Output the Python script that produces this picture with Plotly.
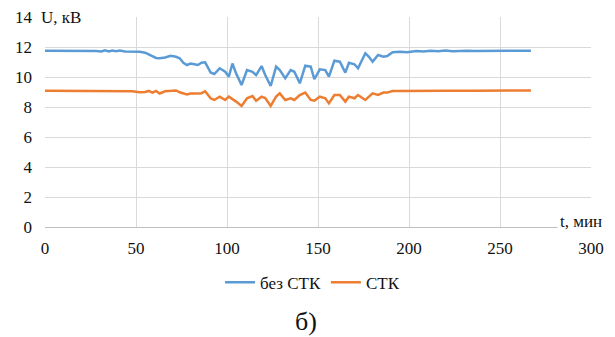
import plotly.graph_objects as go

t_min = [0, 4, 8, 12, 16, 20, 24, 28, 31, 33, 35, 37, 39, 41, 44, 48, 52, 55, 57, 59,
         61, 63, 66, 69, 72, 74, 76, 78, 80, 82, 84, 86, 88, 91, 93, 96, 99, 101, 103, 105,
         108, 111, 114, 116, 119, 121, 124, 127, 129, 132, 135, 137, 140, 143, 146, 148, 151, 154, 156, 159,
         162, 165, 167, 170, 172, 176, 178, 180, 183, 186, 188, 191, 195, 199, 204, 208, 212, 216, 220, 224,
         228, 232, 236, 240, 244, 248, 252, 256, 260, 264, 267]

u_bez_stk = [11.75, 11.75, 11.75, 11.76, 11.75, 11.75, 11.75, 11.74, 11.70, 11.78, 11.70, 11.77, 11.72, 11.77, 11.70, 11.70, 11.68, 11.62, 11.50, 11.35,
             11.27, 11.25, 11.30, 11.42, 11.35, 11.25, 10.95, 10.80, 10.90, 10.85, 10.80, 10.95, 10.98, 10.30, 10.20, 10.58, 10.35, 10.02, 10.90, 10.24,
             9.47, 10.46, 10.35, 10.13, 10.73, 10.13, 9.40, 10.69, 10.46, 9.91, 10.46, 10.35, 9.58, 10.76, 10.69, 9.85, 10.51, 10.46, 10.02, 11.09,
             11.02, 10.29, 10.95, 10.85, 10.58, 11.58, 11.35, 11.02, 11.47, 11.35, 11.40, 11.65, 11.68, 11.65, 11.74, 11.70, 11.75, 11.72, 11.76, 11.72,
             11.75, 11.75, 11.74, 11.75, 11.75, 11.75, 11.75, 11.75, 11.75, 11.75, 11.75]

u_stk = [9.08, 9.08, 9.08, 9.07, 9.08, 9.07, 9.10, 9.07, 9.08, 9.06, 9.09, 9.07, 9.08, 9.07, 9.06, 9.05, 8.98, 9.00, 9.07, 8.96,
         9.07, 8.90, 9.05, 9.05, 9.10, 8.98, 8.90, 8.84, 8.90, 8.88, 8.90, 8.92, 9.05, 8.58, 8.47, 8.69, 8.47, 8.69, 8.55, 8.36,
         8.07, 8.58, 8.73, 8.42, 8.69, 8.60, 8.07, 8.69, 8.91, 8.47, 8.58, 8.47, 8.80, 8.96, 8.47, 8.42, 8.69, 8.58, 8.24, 8.80,
         8.80, 8.36, 8.69, 8.58, 8.80, 8.47, 8.69, 8.91, 8.80, 8.96, 8.96, 9.07, 9.07, 9.08, 9.10, 9.08, 9.10, 9.08, 9.09, 9.08,
         9.10, 9.08, 9.08, 9.09, 9.10, 9.09, 9.10, 9.10, 9.10, 9.10, 9.10]

x_ticks = [0, 50, 100, 150, 200, 250, 300]
y_ticks = [0, 2, 4, 6, 8, 10, 12, 14]

FONT = "Liberation Serif, Times New Roman, DejaVu Serif, serif"
TXT = "#111111"

fig = go.Figure()
fig.add_trace(go.Scatter(x=t_min, y=u_bez_stk, mode="lines", name="без СТК",
                         line=dict(color="#5b9bd5", width=2.5)))
fig.add_trace(go.Scatter(x=t_min, y=u_stk, mode="lines", name="СТК",
                         line=dict(color="#ed7d31", width=2.5)))

fig.update_layout(
    width=607, height=329,
    margin=dict(l=37, r=24, t=9, b=110),
    paper_bgcolor="white", plot_bgcolor="white",
    font=dict(family=FONT, size=17, color=TXT),
    showlegend=True,
    legend=dict(orientation="h", x=0.49, xanchor="center", y=-0.18, yanchor="top",
                font=dict(family=FONT, size=17, color=TXT)),
    xaxis=dict(range=[0, 300], tickvals=x_ticks, showgrid=True, gridcolor="#d9d9d9", gridwidth=1,
               showline=True, linecolor="#bfbfbf", linewidth=1, zeroline=False,
               ticks="", ticklabelstandoff=6, automargin=False, ticklabeloverflow="allow",
               tickfont=dict(family=FONT, size=17, color=TXT)),
    yaxis=dict(range=[0, 14], tickvals=y_ticks, showgrid=True, gridcolor="#d9d9d9", gridwidth=1,
               showline=False, zeroline=False, ticks="", ticklabelstandoff=12, automargin=False,
               ticklabeloverflow="allow",
               tickfont=dict(family=FONT, size=17, color=TXT)),
)

fig.add_annotation(text="U, кВ", xref="paper", yref="paper", x=-0.012, y=1.0,
                   xanchor="left", yanchor="middle", showarrow=False,
                   font=dict(family=FONT, size=17, color=TXT), bgcolor="white",
                   borderpad=2)
fig.add_annotation(text="t, мин", xref="paper", yref="paper", x=1.025, y=0.025,
                   xanchor="right", yanchor="middle", showarrow=False,
                   font=dict(family=FONT, size=17, color=TXT), bgcolor="white",
                   borderpad=2)
fig.add_annotation(text="б)", xref="paper", yref="paper", x=0.478, y=-0.45,
                   xanchor="center", yanchor="middle", showarrow=False,
                   font=dict(family=FONT, size=26, color=TXT))

fig.write_html("out.html")
